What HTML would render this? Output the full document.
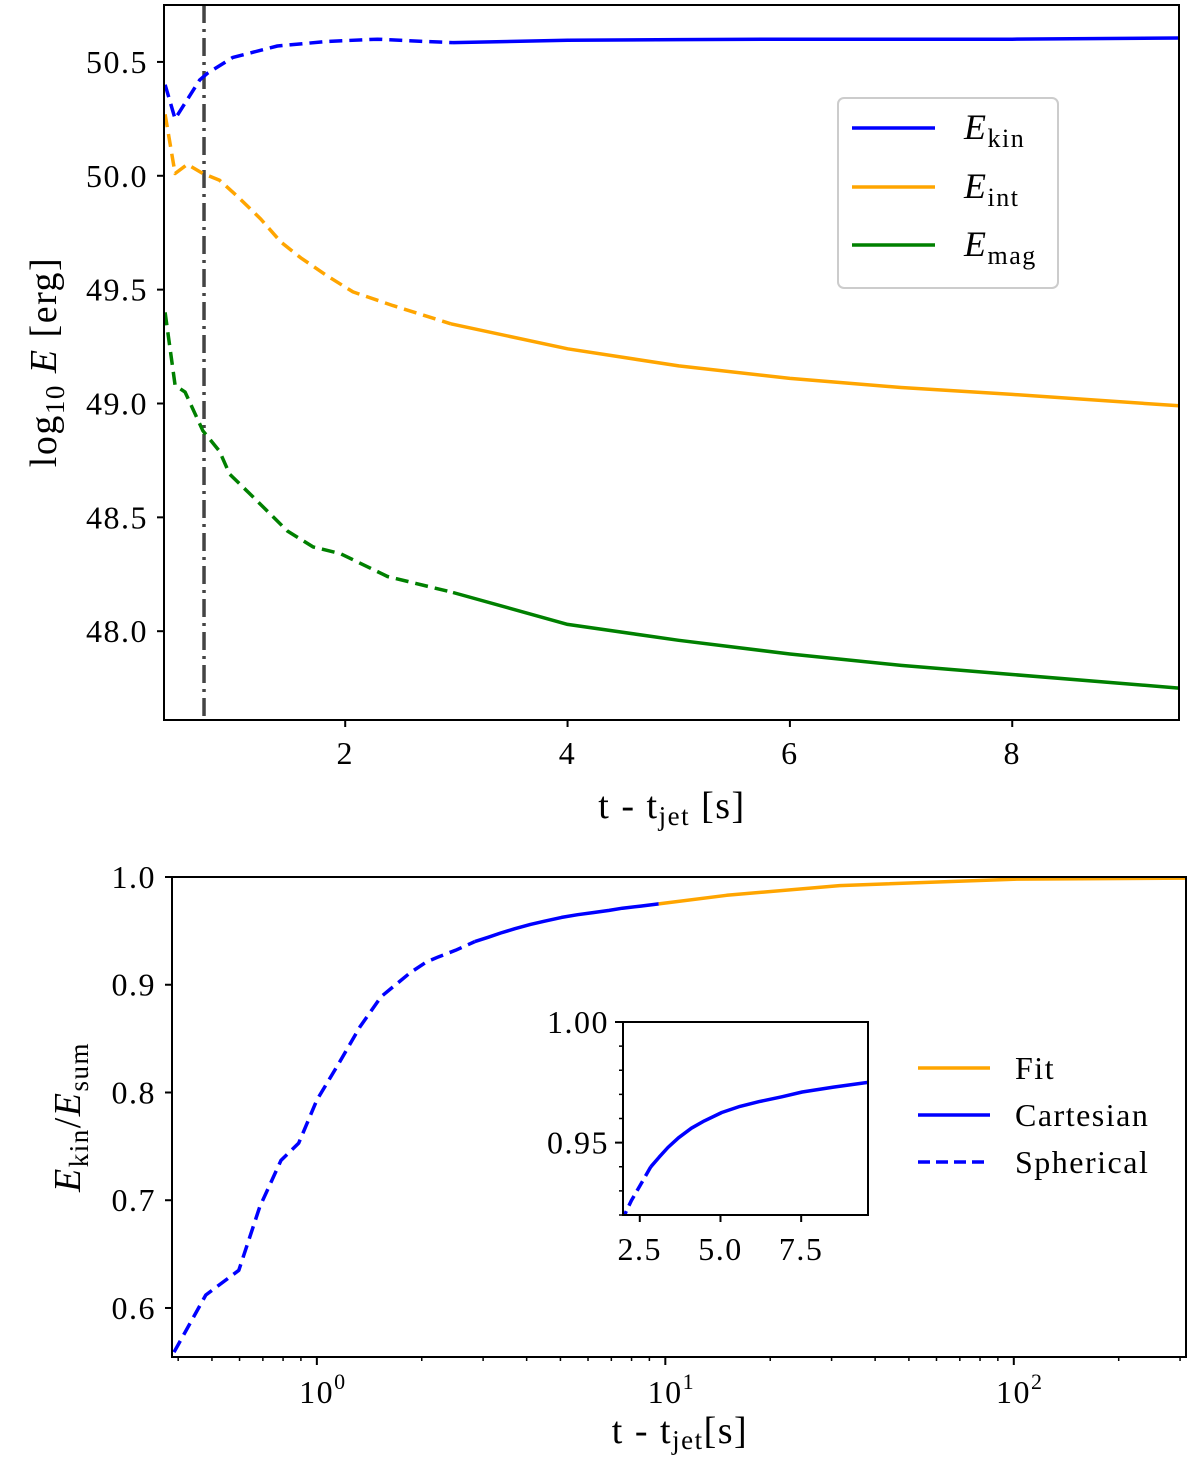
<!DOCTYPE html>
<html><head><meta charset="utf-8"><style>
html,body{margin:0;padding:0;background:#fff;width:1200px;height:1468px;overflow:hidden}
svg{position:absolute;left:0;top:0;display:block;font-family:"Liberation Serif",serif}
</style></head><body>
<svg id="s" width="1200" height="1468" viewBox="0 0 1200 1468" xmlns="http://www.w3.org/2000/svg"></svg>
<script>
// ---- top panel data ----
const kinDashT=[0.38,0.47,0.69,0.76,0.99,1.39,1.84,2.29,2.70,2.97];
const kinDashE=[50.40,50.25,50.42,50.45,50.52,50.57,50.59,50.60,50.59,50.585];
const kinSolT=[2.97,4,5,6,7,8,9.5];
const kinSolE=[50.585,50.595,50.598,50.60,50.60,50.60,50.605];
const intDashT=[0.38,0.47,0.58,0.72,0.87,1.03,1.24,1.42,1.60,1.84,2.07,2.43,2.95];
const intDashE=[50.27,50.01,50.05,50.01,49.98,49.91,49.81,49.71,49.64,49.56,49.49,49.43,49.35];
const intSolT=[2.95,4,5,6,7,8,9.5];
const intSolE=[49.35,49.24,49.165,49.11,49.07,49.04,48.99];
const magDashT=[0.38,0.47,0.56,0.72,0.87,0.96,1.15,1.48,1.71,1.96,2.38,2.97];
const magDashE=[49.40,49.08,49.05,48.88,48.79,48.69,48.60,48.44,48.37,48.34,48.24,48.17];
const magSolT=[2.97,4,5,6,7,8,9.5];
const magSolE=[48.17,48.03,47.96,47.90,47.85,47.81,47.75];
const topXTicks=[2,4,6,8];
const topYTicks=[48.0,48.5,49.0,49.5,50.0,50.5];
const jetT=0.73;
// ---- bottom panel data ----
const sphT=[0.389,0.48,0.597,0.686,0.789,0.887,1.0,1.156,1.33,1.53,1.85,2.06,2.24,2.5,2.84];
const sphR=[0.559,0.612,0.635,0.694,0.737,0.753,0.793,0.827,0.861,0.889,0.911,0.921,0.926,0.932,0.940];
const carT=[2.84,3.1,3.37,3.7,4.1,4.5,5.04,5.6,6.2,6.9,7.53,8.5,9.57];
const carR=[0.940,0.944,0.948,0.952,0.956,0.959,0.9625,0.965,0.967,0.969,0.971,0.973,0.975];
const fitT=[9.57,15,31.6,100,312];
const fitR=[0.975,0.983,0.992,0.998,0.999];
const botYTicks=[0.6,0.7,0.8,0.9,1.0];
const insXTicks=[2.5,5.0,7.5];
const insYTicks=[0.95,1.00];

const S=document.getElementById('s');const NS='http://www.w3.org/2000/svg';
function mk(tag,attrs,parent){const e=document.createElementNS(NS,tag);for(const k in attrs)e.setAttribute(k,attrs[k]);(parent||S).appendChild(e);return e;}
function txt(x,y,str,size,anchor,parent){const t=mk('text',{x:x,y:y,'font-size':size,'text-anchor':anchor||'middle',fill:'#000','letter-spacing':1.5},parent);t.textContent=str;return t;}
function poly(xs,ys,fx,fy,color,dash,name,parent){const p=xs.map((v,i)=>fx(v).toFixed(1)+','+fy(ys[i]).toFixed(1)).join(' ');
 const e=mk('polyline',{points:p,fill:'none',stroke:color,'stroke-width':3.5,'stroke-dasharray':dash||'none','stroke-linejoin':'round'},parent);
 return e;}
const TF=32,LF=38;

// top axes
const TL=164,TR=1179,TT=5,TB=720,tx0=0.37,tx1=9.5,ty0=47.61,ty1=50.75;
const fx1=v=>TL+(v-tx0)/(tx1-tx0)*(TR-TL), fy1=v=>TB-(v-ty0)/(ty1-ty0)*(TB-TT);
const jl=mk('line',{x1:fx1(jetT),x2:fx1(jetT),y1:TT,y2:TB,stroke:'#444','stroke-width':3.5,'stroke-dasharray':'18,6,3,6'});

poly(kinDashT,kinDashE,fx1,fy1,'#0000ff','13,7','ekin-dashed');
poly(kinSolT,kinSolE,fx1,fy1,'#0000ff','','ekin-solid');
poly(intDashT,intDashE,fx1,fy1,'#ffa500','13,7','eint-dashed');
poly(intSolT,intSolE,fx1,fy1,'#ffa500','','eint-solid');
poly(magDashT,magDashE,fx1,fy1,'#008000','13,7','emag-dashed');
poly(magSolT,magSolE,fx1,fy1,'#008000','','emag-solid');
mk('rect',{x:TL,y:TT,width:TR-TL,height:TB-TT,fill:'none',stroke:'#000','stroke-width':2});
topXTicks.forEach(v=>{mk('line',{x1:fx1(v),x2:fx1(v),y1:TB,y2:TB+7,stroke:'#000','stroke-width':2});txt(fx1(v),TB+44,String(v),TF);});
topYTicks.forEach(v=>{mk('line',{x1:TL,x2:TL-7,y1:fy1(v),y2:fy1(v),stroke:'#000','stroke-width':2});txt(TL-16,fy1(v)+11,v.toFixed(1),TF,'end');});
let xl=txt(672,818,'',LF);xl.innerHTML='t - t<tspan font-size="27" dy="7">jet</tspan><tspan dy="-7"> [s]</tspan>';
let yl=txt(0,0,'',LF);yl.setAttribute('transform','translate(56,362) rotate(-90)');yl.innerHTML='log<tspan font-size="27" dy="8">10</tspan><tspan dy="-8"> </tspan><tspan font-style="italic">E</tspan> [erg]';
// top legend
const lg=mk('g',{});
mk('rect',{x:838,y:98,width:220,height:190,rx:6,fill:'#fff',stroke:'#ccc','stroke-width':2},lg);
[['#0000ff','kin',128],['#ffa500','int',187],['#008000','mag',245]].forEach(([c,s,y])=>{
 mk('line',{x1:852,x2:935,y1:y,y2:y,stroke:c,'stroke-width':3.5},lg);
 const t=txt(964,y+11,'',36,'start',lg);t.innerHTML='<tspan font-style="italic">E</tspan><tspan font-size="26" dy="8">'+s+'</tspan>';});

// bottom axes
const BL=172,BR=1186,BT=877,BB=1357,bl0=Math.log10(0.384),bl1=Math.log10(312),by0=0.5545,by1=1.0;
const fx2=v=>BL+(Math.log10(v)-bl0)/(bl1-bl0)*(BR-BL), fy2=v=>BB-(v-by0)/(by1-by0)*(BB-BT);
poly(sphT,sphR,fx2,fy2,'#0000ff','13,7','spherical-curve');
poly(carT,carR,fx2,fy2,'#0000ff','','cartesian-curve');
poly(fitT,fitR,fx2,fy2,'#ffa500','','fit-curve');
mk('rect',{x:BL,y:BT,width:BR-BL,height:BB-BT,fill:'none',stroke:'#000','stroke-width':2});
for(let d=-1;d<=2;d++)for(let m=1;m<10;m++){const v=m*Math.pow(10,d);if(v<0.384||v>312)continue;
 const big=m===1;mk('line',{x1:fx2(v),x2:fx2(v),y1:BB,y2:BB+(big?8:4),stroke:'#000','stroke-width':big?2:1.5});
 if(big){const t=txt(fx2(v)+6,BB+46,'',TF);t.innerHTML='10<tspan font-size="22" dy="-14">'+d+'</tspan>';}}
botYTicks.forEach(v=>{mk('line',{x1:BL,x2:BL-7,y1:fy2(v),y2:fy2(v),stroke:'#000','stroke-width':2});txt(BL-16,fy2(v)+11,v.toFixed(1),TF,'end');});
let xl2=txt(680,1443,'',LF);xl2.innerHTML='t - t<tspan font-size="27" dy="6">jet</tspan><tspan dy="-6">[s]</tspan>';
let yl2=txt(0,0,'',LF);yl2.setAttribute('transform','translate(80,1117) rotate(-90)');yl2.innerHTML='<tspan font-style="italic">E</tspan><tspan font-size="27" dy="8">kin</tspan><tspan dy="-8">/</tspan><tspan font-style="italic">E</tspan><tspan font-size="27" dy="8">sum</tspan>';
// bottom legend
[['#ffa500','','Fit',1068],['#0000ff','','Cartesian',1115],['#0000ff','12,6','Spherical',1162]].forEach(([c,d,l,y])=>{
 const ln=mk('line',{x1:918,x2:990,y1:y,y2:y,stroke:c,'stroke-width':3.5,'stroke-dasharray':d||'none'});
 
 txt(1015,y+11,l,32,'start');});
// inset
const IL=623,IR=868,IT=1022,IB=1215,ix0=1.98,ix1=9.57,iy0=0.920,iy1=1.0;
const fx3=v=>IL+(v-ix0)/(ix1-ix0)*(IR-IL), fy3=v=>IB-(v-iy0)/(iy1-iy0)*(IB-IT);
mk('rect',{x:IL,y:IT,width:IR-IL,height:IB-IT,fill:'#fff',stroke:'none'});
const cp=mk('clipPath',{id:'ic'});mk('rect',{x:IL,y:IT,width:IR-IL,height:IB-IT},cp);
const ig=mk('g',{'clip-path':'url(#ic)'});
poly(sphT,sphR,fx3,fy3,'#0000ff','11,6','inset-spherical',ig);
poly(carT,carR,fx3,fy3,'#0000ff','','inset-cartesian',ig);
mk('rect',{x:IL,y:IT,width:IR-IL,height:IB-IT,fill:'none',stroke:'#000','stroke-width':2});
insXTicks.forEach(v=>{mk('line',{x1:fx3(v),x2:fx3(v),y1:IB,y2:IB+7,stroke:'#000','stroke-width':2});txt(fx3(v),IB+45,v.toFixed(1),TF);});
for(let k=0;k<=8;k++){const v=0.92+k*0.01;const big=(k===3||k===8);
 mk('line',{x1:IL,x2:IL-(big?8:4),y1:fy3(v),y2:fy3(v),stroke:'#000','stroke-width':big?2:1.5});}
insYTicks.forEach(v=>txt(IL-14,fy3(v)+11,v.toFixed(2),TF,'end'));
</script>
</body></html>
